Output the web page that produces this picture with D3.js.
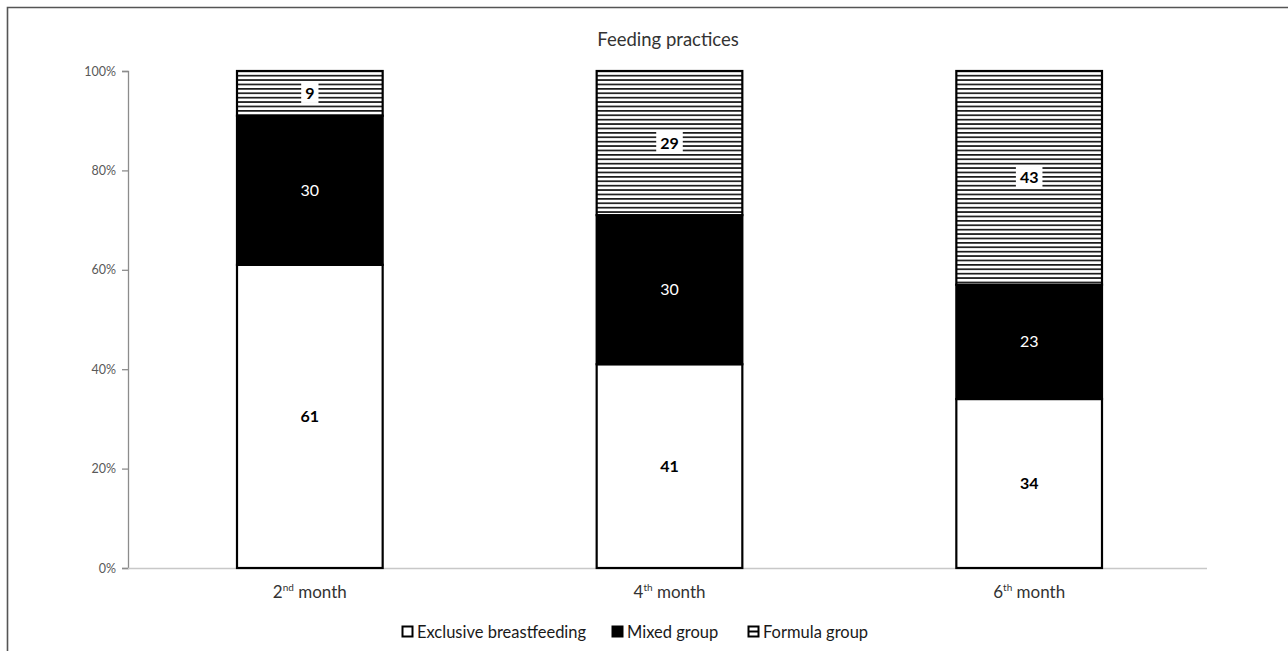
<!DOCTYPE html>
<html>
<head>
<meta charset="utf-8">
<script src="https://cdn.jsdelivr.net/npm/d3@7"></script>
<style>
  html, body { margin: 0; padding: 0; background: #fff; }
  svg { display: block; }
</style>
</head>
<body>
<script>
// Feeding practices by month (percent of infants)
const categories = ["2", "4", "6"];
const ordinalSuffix = ["nd", "th", "th"];
const seriesNames = ["Exclusive breastfeeding", "Mixed group", "Formula group"];
const exclusive = [61, 41, 34];
const mixed = [30, 30, 23];
const formula = [9, 29, 43];
const yTicks = [0, 20, 40, 60, 80, 100];

const W = 1288, H = 651;
const font = "Lato, 'Open Sans', sans-serif";
const svg = d3.select("body").append("svg").attr("width", W).attr("height", H);

// horizontal stripe fill for the formula group
const defs = svg.append("defs");
const pat = defs.append("pattern")
  .attr("id", "hstripe").attr("patternUnits", "userSpaceOnUse")
  .attr("width", 8).attr("height", 4.4);
pat.append("rect").attr("width", 8).attr("height", 4.4).attr("fill", "#fff");
pat.append("rect").attr("y", 0).attr("width", 8).attr("height", 1.7).attr("fill", "#1a1a1a");

// outer frame (top and left edges)
svg.append("path").attr("d", `M7.5,${H} V7.5 H${W}`)
  .attr("fill", "none").attr("stroke", "#555").attr("stroke-width", 1.6);

svg.append("text").attr("x", 668).attr("y", 46).attr("text-anchor", "middle")
  .attr("font-family", font).attr("font-size", 18.5).attr("fill", "#333")
  .text("Feeding practices");

const x0 = 128, x1 = 1207, yTop = 71, yBot = 568;
const x = d3.scaleBand().domain(categories).range([x0 + 2, x1 + 2]).padding(0);
const y = d3.scaleLinear().domain([0, 100]).range([yBot, yTop]);
const barW = x.bandwidth() * 0.405;

// y axis
const yAxis = svg.append("g").attr("transform", `translate(${x0},0)`)
  .call(d3.axisLeft(y).tickValues(yTicks).tickFormat(d => d + "%").tickSize(6).tickPadding(6));
yAxis.select(".domain").attr("stroke", "#8c8c8c").attr("stroke-width", 1.3);
yAxis.selectAll(".tick line").attr("stroke", "#8c8c8c").attr("stroke-width", 1.3);
yAxis.selectAll(".tick text").attr("font-family", font).attr("font-size", 12.5).attr("fill", "#595959");

// baseline
svg.append("line").attr("x1", x0).attr("x2", x1).attr("y1", yBot + 0.5).attr("y2", yBot + 0.5)
  .attr("stroke", "#c8c8c8").attr("stroke-width", 1.3);

// stacked data
const rows = categories.map((c, i) => ({ cat: c, e: exclusive[i], m: mixed[i], f: formula[i] }));
const stack = d3.stack().keys(["e", "m", "f"])(rows);
const fills = ["#fff", "#000", "url(#hstripe)"];

stack.forEach((layer, li) => {
  layer.forEach((d, i) => {
    const cx = x(categories[i]) + x.bandwidth() / 2;
    svg.append("rect")
      .attr("x", cx - barW / 2).attr("width", barW)
      .attr("y", y(d[1])).attr("height", y(d[0]) - y(d[1]))
      .attr("fill", fills[li]).attr("stroke", "#000").attr("stroke-width", 2.2);
  });
});

// value labels
stack.forEach((layer, li) => {
  layer.forEach((d, i) => {
    const cx = x(categories[i]) + x.bandwidth() / 2;
    const cy = (y(d[0]) + y(d[1])) / 2;
    const v = d[1] - d[0];
    const g = svg.append("g");
    const t = g.append("text").attr("x", cx).attr("y", cy).attr("dy", "0.35em")
      .attr("text-anchor", "middle").attr("font-family", font).attr("font-size", 16)
      .attr("font-weight", li === 1 ? "normal" : "bold")
      .attr("fill", li === 1 ? "#fff" : "#000").text(v);
    if (li === 2) {
      const bb = t.node().getBBox();
      g.insert("rect", "text").attr("x", bb.x - 4).attr("y", bb.y - 1)
        .attr("width", bb.width + 8).attr("height", bb.height + 2).attr("fill", "#fff");
    }
  });
});

// category labels with ordinal superscripts
categories.forEach((c, i) => {
  const cx = x(c) + x.bandwidth() / 2;
  const t = svg.append("text").attr("x", cx).attr("y", 598).attr("text-anchor", "middle")
    .attr("font-family", font).attr("font-size", 17).attr("fill", "#333");
  t.append("tspan").text(c);
  t.append("tspan").attr("font-size", 10).attr("dy", -7).text(ordinalSuffix[i]);
  t.append("tspan").attr("dy", 7).text(" month");
});

// legend
const legend = svg.append("g").attr("transform", "translate(0,632)");
const legendX = [401, 611, 747];
seriesNames.forEach((name, i) => {
  const g = legend.append("g").attr("transform", `translate(${legendX[i]},0)`);
  g.append("rect").attr("x", 1.5).attr("y", -5.5).attr("width", 10).attr("height", 10)
    .attr("fill", i === 1 ? "#000" : "#fff").attr("stroke", "#000").attr("stroke-width", 2);
  if (i === 2) {
    g.append("line").attr("x1", 2).attr("x2", 11).attr("y1", -0.5).attr("y2", -0.5)
      .attr("stroke", "#000").attr("stroke-width", 2);
  }
  g.append("text").attr("x", 16).attr("y", 0).attr("dy", "0.35em")
    .attr("font-family", font).attr("font-size", 16.5).attr("fill", "#1a1a1a").text(name);
});
</script>
</body>
</html>
